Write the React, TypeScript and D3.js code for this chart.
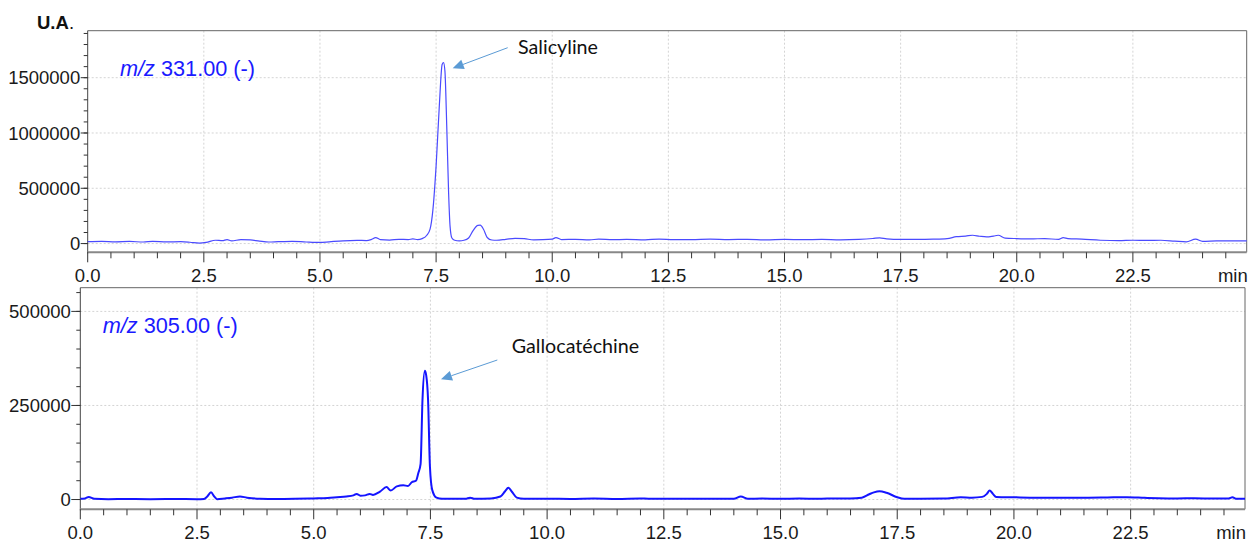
import React from "react";
import * as d3 from "d3";

// ---------- DATA ----------
const topTimes = [
  0.0, 0.3, 0.6, 0.9, 1.2, 1.4, 1.7, 2.0, 2.2, 2.4, 2.55, 2.75, 2.9, 3.0, 3.1, 3.3, 3.5, 3.7, 3.9, 4.1,
  4.4, 4.7, 5.0, 5.2, 5.5, 5.8, 6.0, 6.1, 6.2, 6.3, 6.5, 6.7, 6.9, 7.0, 7.1, 7.2, 7.3, 7.37, 7.43, 7.5,
  7.57, 7.63, 7.66, 7.69, 7.73, 7.77, 7.8, 7.84, 7.9, 8.0, 8.1, 8.2, 8.3, 8.4, 8.45, 8.52, 8.6, 8.7, 8.8, 9.0,
  9.2, 9.4, 9.6, 9.8, 10.0, 10.08, 10.2, 10.5, 10.8, 11.0, 11.3, 11.6, 12.0, 12.3, 12.6, 13.0, 13.4, 13.8, 14.2, 14.6,
  15.0, 15.4, 15.8, 16.2, 16.6, 16.9, 17.05, 17.2, 17.5, 17.9, 18.2, 18.5, 18.7, 18.9, 19.05, 19.2, 19.35, 19.5, 19.6, 19.75,
  20.0, 20.3, 20.6, 20.9, 21.0, 21.1, 21.4, 21.8, 22.2, 22.5, 22.8, 23.1, 23.4, 23.65, 23.85, 24.0, 24.3, 24.6, 24.95,
];
const topValues = [
  18000, 20000, 16000, 19000, 14000, 20000, 15000, 17000, 12000, 4000, 10000, 30000, 26000, 36000, 24000, 36000, 33000, 22000, 14000, 17000,
  20000, 14000, 10000, 16000, 25000, 29000, 27000, 36000, 54000, 36000, 32000, 38000, 36000, 42000, 36000, 45000, 75000, 130000, 300000, 700000,
  1250000, 1620000, 1636000, 1560000, 1050000, 450000, 160000, 50000, 30000, 25000, 30000, 50000, 120000, 165000, 166000, 130000, 55000, 32000, 30000, 38000,
  47000, 44000, 34000, 35000, 40000, 54000, 36000, 38000, 34000, 40000, 35000, 38000, 34000, 40000, 36000, 35000, 40000, 36000, 38000, 33000,
  37000, 35000, 38000, 34000, 38000, 46000, 52000, 42000, 37000, 38000, 40000, 45000, 62000, 68000, 75000, 66000, 60000, 68000, 75000, 50000,
  45000, 42000, 45000, 38000, 54000, 45000, 40000, 30000, 26000, 30000, 28000, 30000, 22000, 15000, 40000, 20000, 24000, 25000, 25000,
];

const bottomTimes = [
  0.0, 0.1, 0.18, 0.3, 0.6, 1.0, 1.5, 2.0, 2.5, 2.65, 2.72, 2.8, 2.87, 2.93, 3.1, 3.25, 3.42, 3.57, 3.85, 4.2,
  4.6, 5.0, 5.3, 5.5, 5.7, 5.85, 5.92, 6.0, 6.1, 6.2, 6.27, 6.42, 6.56, 6.65, 6.78, 6.92, 7.02, 7.1, 7.19, 7.24,
  7.29, 7.33, 7.38, 7.41, 7.45, 7.49, 7.54, 7.63, 7.75, 8.0, 8.25, 8.35, 8.45, 8.8, 9.0, 9.1, 9.17, 9.25, 9.35, 9.5,
  10.0, 10.5, 11.0, 11.5, 12.0, 12.5, 13.0, 13.5, 14.0, 14.15, 14.3, 14.6, 15.0, 15.4, 15.8, 16.2, 16.5, 16.74, 16.9, 17.0,
  17.12, 17.27, 17.5, 17.65, 18.0, 18.5, 18.86, 19.1, 19.32, 19.42, 19.48, 19.55, 19.62, 20.0, 20.5, 21.0, 21.6, 22.0, 22.42, 22.8,
  23.1, 23.5, 23.86, 24.3, 24.6, 24.68, 24.77, 24.95,
];
const bottomValues = [
  2000, 3000, 7000, 2000, 1000, 1500, 1000, 1500, 1000, 1500, 8000, 19000, 8000, 1000, 3000, 5000, 8000, 5000, 2000, 1500,
  2000, 3000, 4000, 6000, 8000, 11000, 15000, 10000, 11000, 15000, 12000, 21000, 33000, 24000, 35000, 38000, 36000, 46000, 50000, 70000,
  95000, 264000, 342000, 330000, 264000, 87000, 25000, 5000, 2000, 2000, 2000, 5000, 2000, 3000, 8000, 22000, 31000, 20000, 5000, 2000,
  2000, 1500, 2500, 1500, 2500, 2000, 2000, 2000, 2000, 8000, 2000, 2500, 2000, 2500, 2000, 3000, 3000, 5000, 14000, 19000,
  22000, 18000, 6000, 2000, 2000, 2500, 6000, 5000, 7000, 15000, 24000, 15000, 7000, 6000, 5000, 5000, 5000, 5500, 6000, 4500,
  3500, 3000, 3500, 2500, 3000, 6000, 2000, 2000,
];

const xMajorTicks = [0, 2.5, 5, 7.5, 10, 12.5, 15, 17.5, 20, 22.5];
const xTickLabels = ["0.0", "2.5", "5.0", "7.5", "10.0", "12.5", "15.0", "17.5", "20.0", "22.5"];
const topYTicks = [0, 500000, 1000000, 1500000];
const bottomYTicks = [0, 250000, 500000];

const topLabel = "331.00 (-)";
const bottomLabel = "305.00 (-)";
const topCompound = "Salicyline";
const bottomCompound = "Gallocatéchine";

// ---------- DRAWING ----------
const AXIS_FONT = "'Liberation Sans', Arial, sans-serif";
const NOTE_FONT = "Lato, 'Open Sans', sans-serif";
const TICK_SIZE = 18.5;

type PanelProps = {
  times: number[];
  values: number[];
  xRange: [number, number];
  yDomain: [number, number];
  yRange: [number, number];
  yTicks: number[];
  yMinorStep: number;
  lineColor: string;
  lineWidth: number;
  majorYTick: number;
  label: string;
  labelPos: [number, number];
  compound: string;
  compoundPos: [number, number];
  arrowFrom: [number, number];
  arrowTo: [number, number];
};

function Panel(p: PanelProps) {
  const x = d3.scaleLinear().domain([0, 24.95]).range(p.xRange);
  const y = d3.scaleLinear().domain(p.yDomain).range(p.yRange);
  const pts: [number, number][] = p.times.map((t, i) => [t, p.values[i]]);
  const line = d3
    .line<[number, number]>()
    .x((d) => x(d[0]))
    .y((d) => y(d[1]))
    .curve(d3.curveMonotoneX);

  const [x0, x1] = p.xRange;
  const [yb, yt] = p.yRange;
  const minorX = d3.range(0, 24.95, 0.5);
  const minorY = d3.range(
    Math.ceil(p.yDomain[0] / p.yMinorStep) * p.yMinorStep,
    p.yDomain[1],
    p.yMinorStep
  );

  // arrow head
  const [ax, ay] = p.arrowFrom;
  const [bx, by] = p.arrowTo;
  const ang = Math.atan2(by - ay, bx - ax);
  const hl = 11,
    hw = 5;
  const baseX = bx - hl * Math.cos(ang);
  const baseY = by - hl * Math.sin(ang);
  const head = [
    [bx, by],
    [baseX + hw * Math.sin(ang), baseY - hw * Math.cos(ang)],
    [baseX - hw * Math.sin(ang), baseY + hw * Math.cos(ang)],
  ]
    .map((q) => q.join(","))
    .join(" ");

  return (
    <g>
      {/* grid */}
      {xMajorTicks
        .filter((t) => t > 0)
        .map((t) => (
          <line
            key={"gx" + t}
            x1={x(t)}
            x2={x(t)}
            y1={yt}
            y2={yb}
            stroke="#d4d4d4"
            strokeDasharray="2,2"
          />
        ))}
      {p.yTicks.map((v) => (
        <line
          key={"gy" + v}
          x1={x0}
          x2={x1}
          y1={y(v)}
          y2={y(v)}
          stroke="#d4d4d4"
          strokeDasharray="2,2"
        />
      ))}
      {/* frame */}
      <line x1={x0} x2={x1} y1={yt} y2={yt} stroke="#666" strokeWidth={1} />
      <line x1={x1} x2={x1} y1={yt} y2={yb} stroke="#666" strokeWidth={1} />
      <line x1={x0} x2={x0} y1={yt} y2={yb + 1} stroke="#444" strokeWidth={1} />
      <line x1={x0} x2={x1} y1={yb} y2={yb} stroke="#888" strokeWidth={2} />

      {/* trace */}
      <path d={line(pts) || ""} fill="none" stroke={p.lineColor} strokeWidth={p.lineWidth} strokeLinejoin="round" />

      {/* x ticks */}
      {minorX.map((t) => {
        const major = Math.abs(t / 2.5 - Math.round(t / 2.5)) < 1e-6;
        return (
          <line
            key={"tx" + t}
            x1={x(t)}
            x2={x(t)}
            y1={yb}
            y2={yb + (major ? 10 : 6)}
            stroke="#333"
            strokeWidth={1}
          />
        );
      })}
      {xMajorTicks.map((t, i) => (
        <text
          key={"lx" + t}
          x={x(t)}
          y={yb + 29.5}
          textAnchor="middle"
          fontFamily={AXIS_FONT}
          fontSize={TICK_SIZE}
          fill="#1a1a1a"
        >
          {xTickLabels[i]}
        </text>
      ))}
      <text
        x={x1 + 1}
        y={yb + 29.5}
        textAnchor="end"
        fontFamily={AXIS_FONT}
        fontSize={TICK_SIZE}
        fill="#1a1a1a"
      >
        min
      </text>

      {/* y ticks */}
      {minorY.map((v) => (
        <line key={"ty" + v} x1={x0 - 4} x2={x0} y1={y(v)} y2={y(v)} stroke="#333" />
      ))}
      {p.yTicks.map((v) => (
        <g key={"ly" + v}>
          <line x1={x0 - p.majorYTick} x2={x0} y1={y(v)} y2={y(v)} stroke="#333" />
          <text
            x={x0 - p.majorYTick - 0.5}
            y={y(v)}
            dy="0.36em"
            textAnchor="end"
            fontFamily={AXIS_FONT}
            fontSize={TICK_SIZE}
            fill="#1a1a1a"
          >
            {v}
          </text>
        </g>
      ))}

      {/* m/z label */}
      <text
        x={p.labelPos[0]}
        y={p.labelPos[1]}
        fontFamily={AXIS_FONT}
        fontSize={21.7}
        fill="#1a1aff"
      >
        <tspan fontStyle="italic">m/z</tspan> {p.label}
      </text>

      {/* annotation */}
      <text
        x={p.compoundPos[0]}
        y={p.compoundPos[1]}
        fontFamily={NOTE_FONT}
        fontSize={19.7}
        fill="#111"
      >
        {p.compound}
      </text>
      <line x1={ax} y1={ay} x2={baseX} y2={baseY} stroke="#5b9bd5" strokeWidth={1} />
      <polygon points={head} fill="#5b9bd5" />
    </g>
  );
}

export default function App() {
  return (
    <svg
      width={1252}
      height={542}
      style={{ position: "absolute", left: 0, top: 0, background: "#fff" }}
    >
      <rect width={1252} height={542} fill="#fff" />
      <text x={37} y={29} fontFamily={AXIS_FONT} fontSize={18.5} fill="#111">
        <tspan fontWeight="bold">U.A</tspan>.
      </text>
      <Panel
        times={topTimes}
        values={topValues}
        xRange={[87.7, 1246.7]}
        yDomain={[-79000, 1925000]}
        yRange={[252.3, 30.7]}
        yTicks={topYTicks}
        yMinorStep={100000}
        lineColor="#4a4aff"
        lineWidth={1.2}
        majorYTick={7}
        label={topLabel}
        labelPos={[120, 76]}
        compound={topCompound}
        compoundPos={[518, 54]}
        arrowFrom={[507.7, 47.7]}
        arrowTo={[452.7, 68.3]}
      />
      <Panel
        times={bottomTimes}
        values={bottomValues}
        xRange={[80.3, 1245]}
        yDomain={[-26000, 563000]}
        yRange={[509.3, 287.7]}
        yTicks={bottomYTicks}
        yMinorStep={50000}
        lineColor="#1414ff"
        lineWidth={2}
        majorYTick={9}
        label={bottomLabel}
        labelPos={[102.7, 332.7]}
        compound={bottomCompound}
        compoundPos={[511.7, 353]}
        arrowFrom={[497.3, 360]}
        arrowTo={[441, 379.3]}
      />
    </svg>
  );
}
